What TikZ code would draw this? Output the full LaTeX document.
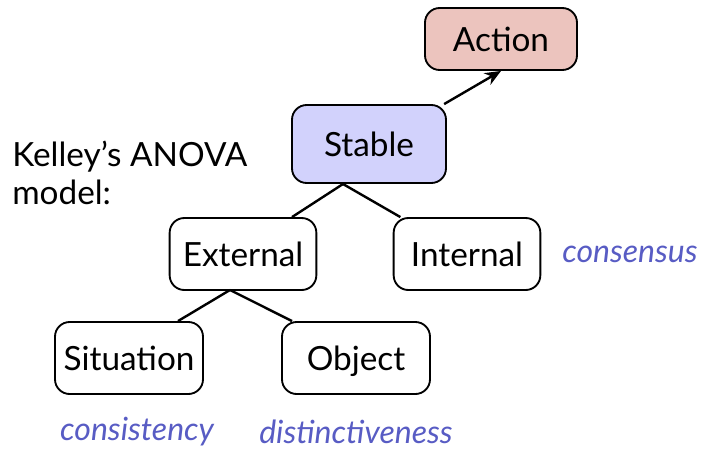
\documentclass[tikz,border=0pt]{standalone}
\usepackage{fontspec}
\setmainfont{Lato}
\usepackage{tikz}
\usetikzlibrary{arrows.meta}

\definecolor{actfill}{RGB}{236,196,190}
\definecolor{stabfill}{RGB}{210,210,252}
\definecolor{dimblue}{RGB}{88,92,196}

\tikzset{
  cbox/.style={draw=black, line width=1.4pt, rounded corners=11pt, fill=white,
    minimum width=110pt, minimum height=54pt, inner sep=0pt,
    text height=23pt, text depth=5pt,
    font=\fontsize{25}{29}\selectfont},
  dimlabel/.style={text=dimblue, font=\fontsize{24}{28}\selectfont\itshape, inner sep=0pt},
  link/.style={line width=1.8pt}
}

\begin{document}
\begin{tikzpicture}[x=0.75pt,y=0.75pt,yscale=-1,xscale=1]
\path[use as bounding box] (0,0) rectangle (704,454);

% Boxes
\node[cbox, fill=actfill, minimum width=114pt, minimum height=46.5pt] (action) at (501,39) {Action};
\node[cbox, fill=stabfill, minimum width=115.5pt, minimum height=58.5pt] (stable) at (369,144) {Stable};
\node[cbox] (external) at (243,254) {External};
\node[cbox] (internal) at (467,254) {Internal};
\node[cbox, minimum width=111pt] (situation) at (129,358) {Situation};
\node[cbox, minimum width=111pt] (object) at (356,358) {Object};

% Text Node
\node[anchor=west, align=left, inner sep=0pt, font=\fontsize{25}{29}\selectfont] (title) at (12,173) {Kelley’s ANOVA\\model:};
% Text Node
\node[dimlabel, anchor=west] (consensus) at (562,254) {consensus};
\node[dimlabel] (consistency) at (137,432) {consistency};
\node[dimlabel] (distinct) at (356,432) {distinctiveness};

% Forks
\coordinate (sfork) at (343,184);
\coordinate (efork) at (230,290);

% Lines
\draw[link, -{Stealth[length=12pt,width=10pt]}] (stable.28) -- (action.south);
\draw[link] (sfork) -- (external.37);
\draw[link] (sfork) -- (internal.151);
\draw[link] (efork) -- (situation.37);
\draw[link] (efork) -- (object.150);

\end{tikzpicture}
\end{document}
